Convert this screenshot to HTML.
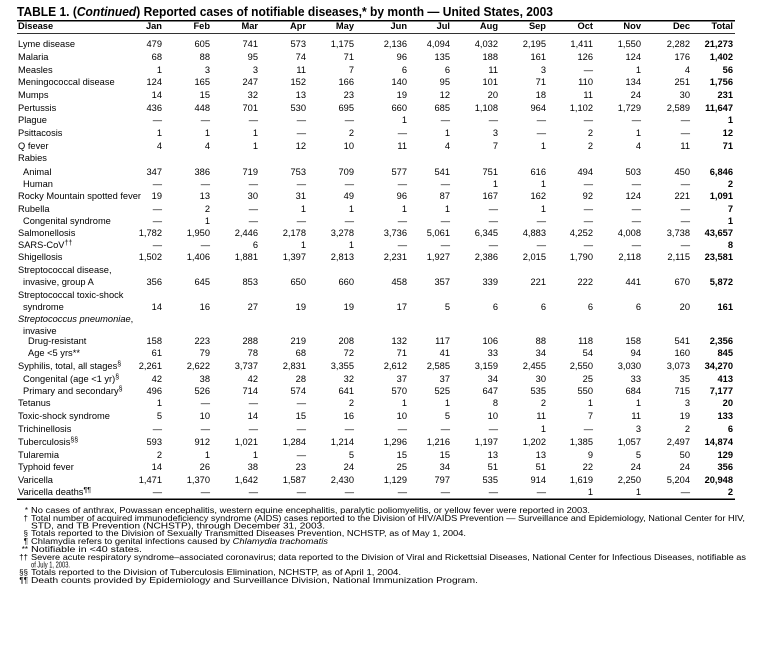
<!DOCTYPE html>
<html><head><meta charset="utf-8"><style>
html,body{margin:0;padding:0;background:#fff}
svg{display:block}
text{font-family:"Liberation Sans",Arial,sans-serif;fill:#000}
.t{font-size:9.3px}
.r{font-size:9.3px;text-anchor:end}
.b{font-weight:bold}
.f{font-size:8.6px}
.m{font-size:8px;text-anchor:end}
</style></head><body>
<svg width="773" height="650" viewBox="0 0 773 650" xmlns="http://www.w3.org/2000/svg">
<text x="17" y="16" style="font-size:12.5px;font-weight:bold" textLength="536" lengthAdjust="spacingAndGlyphs">TABLE 1. (<tspan font-style="italic">Continued</tspan>) Reported cases of notifiable diseases,* by month — United States, 2003</text>
<rect x="17" y="20" width="718" height="1.5" fill="#000"/>
<rect x="17" y="33" width="718" height="0.8" fill="#000"/>
<rect x="17" y="498.5" width="718" height="1.5" fill="#000"/>
<text class="t b" x="18" y="29">Disease</text>
<text class="r b" y="29"><tspan x="162">Jan</tspan><tspan x="210">Feb</tspan><tspan x="258">Mar</tspan><tspan x="306">Apr</tspan><tspan x="354">May</tspan><tspan x="407">Jun</tspan><tspan x="450">Jul</tspan><tspan x="498">Aug</tspan><tspan x="546">Sep</tspan><tspan x="593">Oct</tspan><tspan x="641">Nov</tspan><tspan x="690">Dec</tspan><tspan x="733">Total</tspan></text>

<g class="t">
<text x="18" y="47">Lyme disease</text>
<text x="18" y="60">Malaria</text>
<text x="18" y="73">Measles</text>
<text x="18" y="85">Meningococcal disease</text>
<text x="18" y="98">Mumps</text>
<text x="18" y="111">Pertussis</text>
<text x="18" y="123">Plague</text>
<text x="18" y="136">Psittacosis</text>
<text x="18" y="149">Q fever</text>
<text x="18" y="161">Rabies</text>
<text x="23" y="175">Animal</text>
<text x="23" y="187">Human</text>
<text x="18" y="199">Rocky Mountain spotted fever</text>
<text x="18" y="212">Rubella</text>
<text x="23" y="224">Congenital syndrome</text>
<text x="18" y="236">Salmonellosis</text>
<text x="18" y="248">SARS-CoV<tspan font-size="7" dy="-3">††</tspan></text>
<text x="18" y="260">Shigellosis</text>
<text x="18" y="273">Streptococcal disease,</text>
<text x="23" y="285">invasive, group A</text>
<text x="18" y="298">Streptococcal toxic-shock</text>
<text x="23" y="310">syndrome</text>
<text x="18" y="322"><tspan font-style="italic">Streptococcus pneumoniae</tspan>,</text>
<text x="23" y="334">invasive</text>
<text x="28" y="344">Drug-resistant</text>
<text x="28" y="356">Age &lt;5 yrs**</text>
<text x="18" y="369">Syphilis, total, all stages<tspan font-size="7" dy="-3">§</tspan></text>
<text x="23" y="382">Congenital (age &lt;1 yr)<tspan font-size="7" dy="-3">§</tspan></text>
<text x="23" y="394">Primary and secondary<tspan font-size="7" dy="-3">§</tspan></text>
<text x="18" y="406">Tetanus</text>
<text x="18" y="419">Toxic-shock syndrome</text>
<text x="18" y="432">Trichinellosis</text>
<text x="18" y="445">Tuberculosis<tspan font-size="7" dy="-3">§§</tspan></text>
<text x="18" y="458">Tularemia</text>
<text x="18" y="470">Typhoid fever</text>
<text x="18" y="483">Varicella</text>
<text x="18" y="495">Varicella deaths<tspan font-size="7" dy="-3">¶¶</tspan></text>
</g>

<g class="r">
<text y="47"><tspan x="162">479</tspan><tspan x="210">605</tspan><tspan x="258">741</tspan><tspan x="306">573</tspan><tspan x="354">1,175</tspan><tspan x="407">2,136</tspan><tspan x="450">4,094</tspan><tspan x="498">4,032</tspan><tspan x="546">2,195</tspan><tspan x="593">1,411</tspan><tspan x="641">1,550</tspan><tspan x="690">2,282</tspan><tspan x="733" class="b">21,273</tspan></text>
<text y="60"><tspan x="162">68</tspan><tspan x="210">88</tspan><tspan x="258">95</tspan><tspan x="306">74</tspan><tspan x="354">71</tspan><tspan x="407">96</tspan><tspan x="450">135</tspan><tspan x="498">188</tspan><tspan x="546">161</tspan><tspan x="593">126</tspan><tspan x="641">124</tspan><tspan x="690">176</tspan><tspan x="733" class="b">1,402</tspan></text>
<text y="73"><tspan x="162">1</tspan><tspan x="210">3</tspan><tspan x="258">3</tspan><tspan x="306">11</tspan><tspan x="354">7</tspan><tspan x="407">6</tspan><tspan x="450">6</tspan><tspan x="498">11</tspan><tspan x="546">3</tspan><tspan x="593">—</tspan><tspan x="641">1</tspan><tspan x="690">4</tspan><tspan x="733" class="b">56</tspan></text>
<text y="85"><tspan x="162">124</tspan><tspan x="210">165</tspan><tspan x="258">247</tspan><tspan x="306">152</tspan><tspan x="354">166</tspan><tspan x="407">140</tspan><tspan x="450">95</tspan><tspan x="498">101</tspan><tspan x="546">71</tspan><tspan x="593">110</tspan><tspan x="641">134</tspan><tspan x="690">251</tspan><tspan x="733" class="b">1,756</tspan></text>
<text y="98"><tspan x="162">14</tspan><tspan x="210">15</tspan><tspan x="258">32</tspan><tspan x="306">13</tspan><tspan x="354">23</tspan><tspan x="407">19</tspan><tspan x="450">12</tspan><tspan x="498">20</tspan><tspan x="546">18</tspan><tspan x="593">11</tspan><tspan x="641">24</tspan><tspan x="690">30</tspan><tspan x="733" class="b">231</tspan></text>
<text y="111"><tspan x="162">436</tspan><tspan x="210">448</tspan><tspan x="258">701</tspan><tspan x="306">530</tspan><tspan x="354">695</tspan><tspan x="407">660</tspan><tspan x="450">685</tspan><tspan x="498">1,108</tspan><tspan x="546">964</tspan><tspan x="593">1,102</tspan><tspan x="641">1,729</tspan><tspan x="690">2,589</tspan><tspan x="733" class="b">11,647</tspan></text>
<text y="123"><tspan x="162">—</tspan><tspan x="210">—</tspan><tspan x="258">—</tspan><tspan x="306">—</tspan><tspan x="354">—</tspan><tspan x="407">1</tspan><tspan x="450">—</tspan><tspan x="498">—</tspan><tspan x="546">—</tspan><tspan x="593">—</tspan><tspan x="641">—</tspan><tspan x="690">—</tspan><tspan x="733" class="b">1</tspan></text>
<text y="136"><tspan x="162">1</tspan><tspan x="210">1</tspan><tspan x="258">1</tspan><tspan x="306">—</tspan><tspan x="354">2</tspan><tspan x="407">—</tspan><tspan x="450">1</tspan><tspan x="498">3</tspan><tspan x="546">—</tspan><tspan x="593">2</tspan><tspan x="641">1</tspan><tspan x="690">—</tspan><tspan x="733" class="b">12</tspan></text>
<text y="149"><tspan x="162">4</tspan><tspan x="210">4</tspan><tspan x="258">1</tspan><tspan x="306">12</tspan><tspan x="354">10</tspan><tspan x="407">11</tspan><tspan x="450">4</tspan><tspan x="498">7</tspan><tspan x="546">1</tspan><tspan x="593">2</tspan><tspan x="641">4</tspan><tspan x="690">11</tspan><tspan x="733" class="b">71</tspan></text>
<text y="175"><tspan x="162">347</tspan><tspan x="210">386</tspan><tspan x="258">719</tspan><tspan x="306">753</tspan><tspan x="354">709</tspan><tspan x="407">577</tspan><tspan x="450">541</tspan><tspan x="498">751</tspan><tspan x="546">616</tspan><tspan x="593">494</tspan><tspan x="641">503</tspan><tspan x="690">450</tspan><tspan x="733" class="b">6,846</tspan></text>
<text y="187"><tspan x="162">—</tspan><tspan x="210">—</tspan><tspan x="258">—</tspan><tspan x="306">—</tspan><tspan x="354">—</tspan><tspan x="407">—</tspan><tspan x="450">—</tspan><tspan x="498">1</tspan><tspan x="546">1</tspan><tspan x="593">—</tspan><tspan x="641">—</tspan><tspan x="690">—</tspan><tspan x="733" class="b">2</tspan></text>
<text y="199"><tspan x="162">19</tspan><tspan x="210">13</tspan><tspan x="258">30</tspan><tspan x="306">31</tspan><tspan x="354">49</tspan><tspan x="407">96</tspan><tspan x="450">87</tspan><tspan x="498">167</tspan><tspan x="546">162</tspan><tspan x="593">92</tspan><tspan x="641">124</tspan><tspan x="690">221</tspan><tspan x="733" class="b">1,091</tspan></text>
<text y="212"><tspan x="162">—</tspan><tspan x="210">2</tspan><tspan x="258">—</tspan><tspan x="306">1</tspan><tspan x="354">1</tspan><tspan x="407">1</tspan><tspan x="450">1</tspan><tspan x="498">—</tspan><tspan x="546">1</tspan><tspan x="593">—</tspan><tspan x="641">—</tspan><tspan x="690">—</tspan><tspan x="733" class="b">7</tspan></text>
<text y="224"><tspan x="162">—</tspan><tspan x="210">1</tspan><tspan x="258">—</tspan><tspan x="306">—</tspan><tspan x="354">—</tspan><tspan x="407">—</tspan><tspan x="450">—</tspan><tspan x="498">—</tspan><tspan x="546">—</tspan><tspan x="593">—</tspan><tspan x="641">—</tspan><tspan x="690">—</tspan><tspan x="733" class="b">1</tspan></text>
<text y="236"><tspan x="162">1,782</tspan><tspan x="210">1,950</tspan><tspan x="258">2,446</tspan><tspan x="306">2,178</tspan><tspan x="354">3,278</tspan><tspan x="407">3,736</tspan><tspan x="450">5,061</tspan><tspan x="498">6,345</tspan><tspan x="546">4,883</tspan><tspan x="593">4,252</tspan><tspan x="641">4,008</tspan><tspan x="690">3,738</tspan><tspan x="733" class="b">43,657</tspan></text>
<text y="248"><tspan x="162">—</tspan><tspan x="210">—</tspan><tspan x="258">6</tspan><tspan x="306">1</tspan><tspan x="354">1</tspan><tspan x="407">—</tspan><tspan x="450">—</tspan><tspan x="498">—</tspan><tspan x="546">—</tspan><tspan x="593">—</tspan><tspan x="641">—</tspan><tspan x="690">—</tspan><tspan x="733" class="b">8</tspan></text>
<text y="260"><tspan x="162">1,502</tspan><tspan x="210">1,406</tspan><tspan x="258">1,881</tspan><tspan x="306">1,397</tspan><tspan x="354">2,813</tspan><tspan x="407">2,231</tspan><tspan x="450">1,927</tspan><tspan x="498">2,386</tspan><tspan x="546">2,015</tspan><tspan x="593">1,790</tspan><tspan x="641">2,118</tspan><tspan x="690">2,115</tspan><tspan x="733" class="b">23,581</tspan></text>
<text y="285"><tspan x="162">356</tspan><tspan x="210">645</tspan><tspan x="258">853</tspan><tspan x="306">650</tspan><tspan x="354">660</tspan><tspan x="407">458</tspan><tspan x="450">357</tspan><tspan x="498">339</tspan><tspan x="546">221</tspan><tspan x="593">222</tspan><tspan x="641">441</tspan><tspan x="690">670</tspan><tspan x="733" class="b">5,872</tspan></text>
<text y="310"><tspan x="162">14</tspan><tspan x="210">16</tspan><tspan x="258">27</tspan><tspan x="306">19</tspan><tspan x="354">19</tspan><tspan x="407">17</tspan><tspan x="450">5</tspan><tspan x="498">6</tspan><tspan x="546">6</tspan><tspan x="593">6</tspan><tspan x="641">6</tspan><tspan x="690">20</tspan><tspan x="733" class="b">161</tspan></text>
<text y="344"><tspan x="162">158</tspan><tspan x="210">223</tspan><tspan x="258">288</tspan><tspan x="306">219</tspan><tspan x="354">208</tspan><tspan x="407">132</tspan><tspan x="450">117</tspan><tspan x="498">106</tspan><tspan x="546">88</tspan><tspan x="593">118</tspan><tspan x="641">158</tspan><tspan x="690">541</tspan><tspan x="733" class="b">2,356</tspan></text>
<text y="356"><tspan x="162">61</tspan><tspan x="210">79</tspan><tspan x="258">78</tspan><tspan x="306">68</tspan><tspan x="354">72</tspan><tspan x="407">71</tspan><tspan x="450">41</tspan><tspan x="498">33</tspan><tspan x="546">34</tspan><tspan x="593">54</tspan><tspan x="641">94</tspan><tspan x="690">160</tspan><tspan x="733" class="b">845</tspan></text>
<text y="369"><tspan x="162">2,261</tspan><tspan x="210">2,622</tspan><tspan x="258">3,737</tspan><tspan x="306">2,831</tspan><tspan x="354">3,355</tspan><tspan x="407">2,612</tspan><tspan x="450">2,585</tspan><tspan x="498">3,159</tspan><tspan x="546">2,455</tspan><tspan x="593">2,550</tspan><tspan x="641">3,030</tspan><tspan x="690">3,073</tspan><tspan x="733" class="b">34,270</tspan></text>
<text y="382"><tspan x="162">42</tspan><tspan x="210">38</tspan><tspan x="258">42</tspan><tspan x="306">28</tspan><tspan x="354">32</tspan><tspan x="407">37</tspan><tspan x="450">37</tspan><tspan x="498">34</tspan><tspan x="546">30</tspan><tspan x="593">25</tspan><tspan x="641">33</tspan><tspan x="690">35</tspan><tspan x="733" class="b">413</tspan></text>
<text y="394"><tspan x="162">496</tspan><tspan x="210">526</tspan><tspan x="258">714</tspan><tspan x="306">574</tspan><tspan x="354">641</tspan><tspan x="407">570</tspan><tspan x="450">525</tspan><tspan x="498">647</tspan><tspan x="546">535</tspan><tspan x="593">550</tspan><tspan x="641">684</tspan><tspan x="690">715</tspan><tspan x="733" class="b">7,177</tspan></text>
<text y="406"><tspan x="162">1</tspan><tspan x="210">—</tspan><tspan x="258">—</tspan><tspan x="306">—</tspan><tspan x="354">2</tspan><tspan x="407">1</tspan><tspan x="450">1</tspan><tspan x="498">8</tspan><tspan x="546">2</tspan><tspan x="593">1</tspan><tspan x="641">1</tspan><tspan x="690">3</tspan><tspan x="733" class="b">20</tspan></text>
<text y="419"><tspan x="162">5</tspan><tspan x="210">10</tspan><tspan x="258">14</tspan><tspan x="306">15</tspan><tspan x="354">16</tspan><tspan x="407">10</tspan><tspan x="450">5</tspan><tspan x="498">10</tspan><tspan x="546">11</tspan><tspan x="593">7</tspan><tspan x="641">11</tspan><tspan x="690">19</tspan><tspan x="733" class="b">133</tspan></text>
<text y="432"><tspan x="162">—</tspan><tspan x="210">—</tspan><tspan x="258">—</tspan><tspan x="306">—</tspan><tspan x="354">—</tspan><tspan x="407">—</tspan><tspan x="450">—</tspan><tspan x="498">—</tspan><tspan x="546">1</tspan><tspan x="593">—</tspan><tspan x="641">3</tspan><tspan x="690">2</tspan><tspan x="733" class="b">6</tspan></text>
<text y="445"><tspan x="162">593</tspan><tspan x="210">912</tspan><tspan x="258">1,021</tspan><tspan x="306">1,284</tspan><tspan x="354">1,214</tspan><tspan x="407">1,296</tspan><tspan x="450">1,216</tspan><tspan x="498">1,197</tspan><tspan x="546">1,202</tspan><tspan x="593">1,385</tspan><tspan x="641">1,057</tspan><tspan x="690">2,497</tspan><tspan x="733" class="b">14,874</tspan></text>
<text y="458"><tspan x="162">2</tspan><tspan x="210">1</tspan><tspan x="258">1</tspan><tspan x="306">—</tspan><tspan x="354">5</tspan><tspan x="407">15</tspan><tspan x="450">15</tspan><tspan x="498">13</tspan><tspan x="546">13</tspan><tspan x="593">9</tspan><tspan x="641">5</tspan><tspan x="690">50</tspan><tspan x="733" class="b">129</tspan></text>
<text y="470"><tspan x="162">14</tspan><tspan x="210">26</tspan><tspan x="258">38</tspan><tspan x="306">23</tspan><tspan x="354">24</tspan><tspan x="407">25</tspan><tspan x="450">34</tspan><tspan x="498">51</tspan><tspan x="546">51</tspan><tspan x="593">22</tspan><tspan x="641">24</tspan><tspan x="690">24</tspan><tspan x="733" class="b">356</tspan></text>
<text y="483"><tspan x="162">1,471</tspan><tspan x="210">1,370</tspan><tspan x="258">1,642</tspan><tspan x="306">1,587</tspan><tspan x="354">2,430</tspan><tspan x="407">1,129</tspan><tspan x="450">797</tspan><tspan x="498">535</tspan><tspan x="546">914</tspan><tspan x="593">1,619</tspan><tspan x="641">2,250</tspan><tspan x="690">5,204</tspan><tspan x="733" class="b">20,948</tspan></text>
<text y="495"><tspan x="162">—</tspan><tspan x="210">—</tspan><tspan x="258">—</tspan><tspan x="306">—</tspan><tspan x="354">—</tspan><tspan x="407">—</tspan><tspan x="450">—</tspan><tspan x="498">—</tspan><tspan x="546">—</tspan><tspan x="593">1</tspan><tspan x="641">1</tspan><tspan x="690">—</tspan><tspan x="733" class="b">2</tspan></text>
</g>

<g>
<text class="m" x="28" y="513">*</text>
<text class="f" x="31" y="513" textLength="559" lengthAdjust="spacingAndGlyphs">No cases of anthrax, Powassan encephalitis, western equine encephalitis, paralytic poliomyelitis, or yellow fever were reported in 2003.</text>
<text class="m" x="28" y="521">†</text>
<text class="f" x="31" y="521" textLength="714" lengthAdjust="spacingAndGlyphs">Total number of acquired immunodeficiency syndrome (AIDS) cases reported to the Division of HIV/AIDS Prevention — Surveillance and Epidemiology, National Center for HIV,</text>
<text class="f" x="31" y="528.5" textLength="294" lengthAdjust="spacingAndGlyphs">STD, and TB Prevention (NCHSTP), through December 31, 2003.</text>
<text class="m" x="28" y="536">§</text>
<text class="f" x="31" y="536" textLength="435" lengthAdjust="spacingAndGlyphs">Totals reported to the Division of Sexually Transmitted Diseases Prevention, NCHSTP, as of May 1, 2004.</text>
<text class="m" x="28" y="544">¶</text>
<text class="f" x="31" y="544" textLength="297" lengthAdjust="spacingAndGlyphs">Chlamydia refers to genital infections caused by <tspan font-style="italic">Chlamydia trachomatis</tspan></text>
<text class="m" x="28" y="552">**</text>
<text class="f" x="31" y="552" textLength="111" lengthAdjust="spacingAndGlyphs">Notifiable in &lt;40 states.</text>
<text class="m" x="28" y="560">††</text>
<text class="f" x="31" y="560" textLength="715" lengthAdjust="spacingAndGlyphs">Severe acute respiratory syndrome–associated coronavirus; data reported to the Division of Viral and Rickettsial Diseases, National Center for Infectious Diseases, notifiable as</text>
<text class="f" x="31" y="567.5" textLength="39" lengthAdjust="spacingAndGlyphs">of July 1, 2003.</text>
<text class="m" x="28" y="575">§§</text>
<text class="f" x="31" y="575" textLength="370" lengthAdjust="spacingAndGlyphs">Totals reported to the Division of Tuberculosis Elimination, NCHSTP, as of April 1, 2004.</text>
<text class="m" x="28" y="583">¶¶</text>
<text class="f" x="31" y="583" textLength="447" lengthAdjust="spacingAndGlyphs">Death counts provided by Epidemiology and Surveillance Division, National Immunization Program.</text>
</g>
</svg>
</body></html>
